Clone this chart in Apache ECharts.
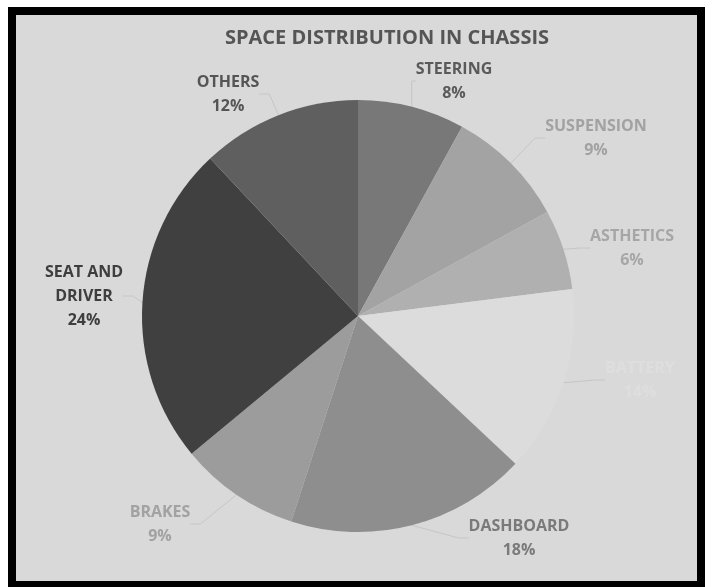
<!DOCTYPE html>
<html>
<head>
<meta charset="utf-8">
<script src="https://cdn.jsdelivr.net/npm/echarts@6/dist/echarts.min.js"></script>
<style>
html,body{margin:0;padding:0;background:#fff;}
#chart{width:713px;height:587px;}
</style>
</head>
<body>
<div id="chart"></div>
<script>
const titleText = 'SPACE DISTRIBUTION IN CHASSIS';
const categories = ['STEERING','SUSPENSION','ASTHETICS','BATTERY','DASHBOARD','BRAKES','SEAT AND\nDRIVER','OTHERS'];
const values = [8, 9, 6, 14, 18, 9, 24, 12];

const sliceColors = ['#787878','#a3a3a3','#b0b0b0','#dcdcdc','#8e8e8e','#9c9c9c','#404040','#5f5f5f'];
const labelColors = ['#5a5a5a','#a2a2a2','#a6a6a6','#dedede','#7a7a7a','#a2a2a2','#3e3e3e','#555555'];
const labelPos = [[454,81],[596,138],[632,248],[640,380],[519,538],[160,524],[84,296],[228,94]];

const chart = echarts.init(document.getElementById('chart'));
chart.setOption({
  backgroundColor: '#ffffff',
  animation: false,
  graphic: [
    {type:'rect', shape:{x:12,y:11,width:689,height:574}, style:{fill:'#d9d9d9', stroke:'#000', lineWidth:8}, z:-10}
  ],
  title: {
    text: titleText, left: 382, top: 23, textAlign: 'center',
    textStyle: {fontFamily:'Open Sans', fontSize:20, fontWeight:'bold', color:'#555'}
  },
  series: [{
    type: 'pie',
    center: [358, 316],
    radius: [0, 216],
    startAngle: 90,
    clockwise: true,
    data: categories.map((c,i)=>({
      name: c, value: values[i],
      itemStyle: {color: sliceColors[i]},
      label: {color: labelColors[i]}
    })),
    itemStyle: {borderWidth: 0},
    label: {
      show: true,
      formatter: '{b}\n{d}%',
      fontFamily: 'Open Sans', fontSize: 16, fontWeight: 'bold', lineHeight: 24,
      align: 'center'
    },
    labelLine: {show: true, lineStyle: {color:'#c6c6c6', width:1}, length: 10, length2: 10},
    labelLayout: function(p){
      const pos = labelPos[p.dataIndex];
      return {x: pos[0], y: pos[1], align:'center', verticalAlign:'middle'};
    }
  }]
});
</script>
</body>
</html>
